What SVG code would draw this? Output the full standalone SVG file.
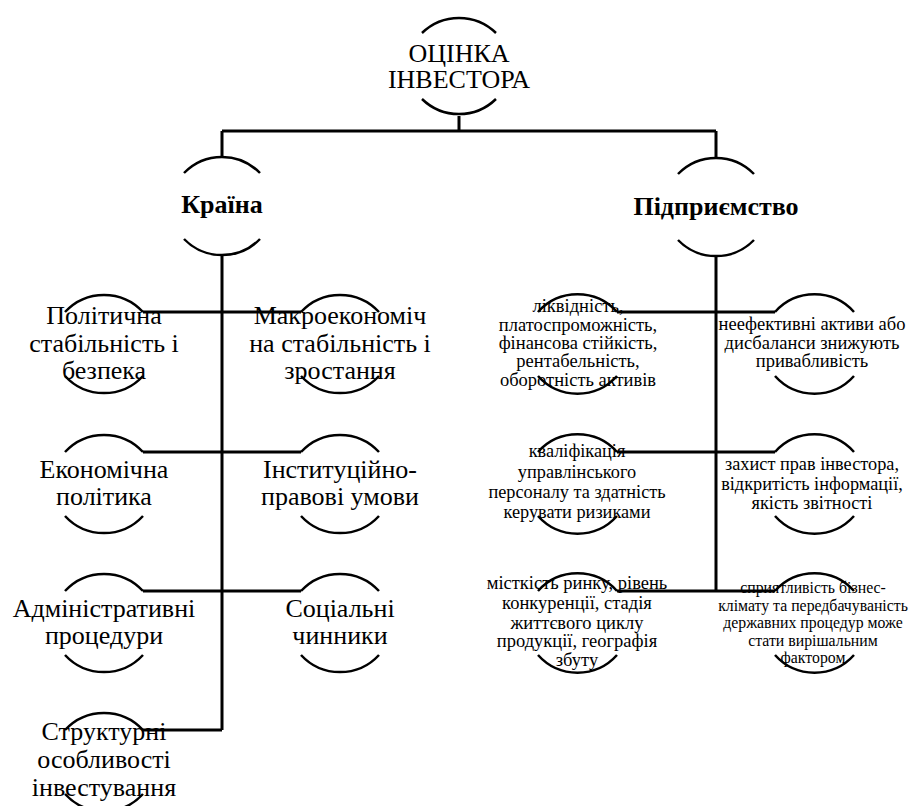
<svg xmlns="http://www.w3.org/2000/svg" width="911" height="806" viewBox="0 0 911 806" font-family="Liberation Serif, Times New Roman, serif">
<style>
.arc{fill:none;stroke:#000;stroke-width:2.5}
.ln{fill:none;stroke:#000;stroke-width:3}
text{font-family:"Liberation Serif","Times New Roman",serif;fill:#000;text-anchor:middle}
.big{font-size:26px}
.bold{font-size:26px;font-weight:bold}
.sm{font-size:18.5px}
.sm2{font-size:18.3px}
.xs{font-size:15.8px}
</style>
<rect width="911" height="806" fill="#fff"/>
<g id="n-root">
<path class="arc" d="M422,33 A53,53 0 0 1 496,33"/>
<path class="arc" d="M422,99 A53,53 0 0 0 496,99"/>
<text class="big" x="459" y="62">ОЦІНКА</text>
<text class="big" x="459" y="88">ІНВЕСТОРА</text>
</g>
<g id="n-country">
<path class="arc" d="M184,173 A53,53 0 0 1 260,173"/>
<path class="arc" d="M184,239 A53,53 0 0 0 260,239"/>
<text class="bold" x="222" y="213">Країна</text>
</g>
<g id="n-company">
<path class="arc" d="M678,174 A53,53 0 0 1 754,174"/>
<path class="arc" d="M678,240 A53,53 0 0 0 754,240"/>
<text class="bold" x="716" y="215">Підприємство</text>
</g>
<g id="n-pol">
<path class="arc" d="M65,312 A53,53 0 0 1 143,312"/>
<path class="arc" d="M65,376 A53,53 0 0 0 143,376"/>
<text class="big" x="104" y="324">Політична</text>
<text class="big" x="104" y="352">стабільність і</text>
<text class="big" x="104" y="379">безпека</text>
</g>
<g id="n-macro">
<path class="arc" d="M301,312 A53,53 0 0 1 379,312"/>
<path class="arc" d="M301,376 A53,53 0 0 0 379,376"/>
<text class="big" x="340" y="324">Макроекономіч</text>
<text class="big" x="340" y="352">на стабільність і</text>
<text class="big" x="340" y="379">зростання</text>
</g>
<g id="n-econ">
<path class="arc" d="M65,452 A53,53 0 0 1 143,452"/>
<path class="arc" d="M65,516 A53,53 0 0 0 143,516"/>
<text class="big" x="104" y="478">Економічна</text>
<text class="big" x="104" y="505">політика</text>
</g>
<g id="n-inst">
<path class="arc" d="M301,452 A53,53 0 0 1 379,452"/>
<path class="arc" d="M301,516 A53,53 0 0 0 379,516"/>
<text class="big" x="340" y="478">Інституційно-</text>
<text class="big" x="340" y="505">правові умови</text>
</g>
<g id="n-admin">
<path class="arc" d="M65,591 A53,53 0 0 1 143,591"/>
<path class="arc" d="M65,655 A53,53 0 0 0 143,655"/>
<text class="big" x="104" y="617">Адміністративні</text>
<text class="big" x="104" y="644">процедури</text>
</g>
<g id="n-social">
<path class="arc" d="M301,591 A53,53 0 0 1 379,591"/>
<path class="arc" d="M301,655 A53,53 0 0 0 379,655"/>
<text class="big" x="340" y="617">Соціальні</text>
<text class="big" x="340" y="644">чинники</text>
</g>
<g id="n-struct">
<path class="arc" d="M65,730 A53,53 0 0 1 143,730"/>
<path class="arc" d="M65,794 A53,53 0 0 0 143,794"/>
<text class="big" x="104" y="740">Структурні</text>
<text class="big" x="104" y="768">особливості</text>
<text class="big" x="104" y="796">інвестування</text>
</g>
<g id="n-liq">
<path class="arc" d="M538,312 A53,53 0 0 1 617,312"/>
<path class="arc" d="M538,376 A53,53 0 0 0 617,376"/>
<text class="sm" x="578" y="312">ліквідність,</text>
<text class="sm" x="578" y="331">платоспроможність,</text>
<text class="sm" x="578" y="349">фінансова стійкість,</text>
<text class="sm" x="578" y="367">рентабельність,</text>
<text class="sm" x="578" y="386">оборотність активів</text>
</g>
<g id="n-ineff">
<path class="arc" d="M775,312 A53,53 0 0 1 854,312"/>
<path class="arc" d="M775,376 A53,53 0 0 0 854,376"/>
<text class="sm" x="812" y="330">неефективні активи або</text>
<text class="sm" x="812" y="349">дисбаланси знижують</text>
<text class="sm" x="812" y="367">привабливість</text>
</g>
<g id="n-qual">
<path class="arc" d="M538,452 A53,53 0 0 1 617,452"/>
<path class="arc" d="M538,516 A53,53 0 0 0 617,516"/>
<text class="sm2" x="577" y="457">кваліфікація</text>
<text class="sm2" x="577" y="478">управлінського</text>
<text class="sm2" x="577" y="498">персоналу та здатність</text>
<text class="sm2" x="577" y="518">керувати ризиками</text>
</g>
<g id="n-rights">
<path class="arc" d="M775,452 A53,53 0 0 1 854,452"/>
<path class="arc" d="M775,516 A53,53 0 0 0 854,516"/>
<text class="sm2" x="812" y="470">захист прав інвестора,</text>
<text class="sm2" x="812" y="490">відкритість інформації,</text>
<text class="sm2" x="812" y="509">якість звітності</text>
</g>
<g id="n-market">
<path class="arc" d="M538,591 A53,53 0 0 1 617,591"/>
<path class="arc" d="M538,655 A53,53 0 0 0 617,655"/>
<text class="sm" x="577" y="589">місткість ринку, рівень</text>
<text class="sm" x="577" y="609">конкуренції, стадія</text>
<text class="sm" x="577" y="629">життєвого циклу</text>
<text class="sm" x="577" y="647">продукції, географія</text>
<text class="sm" x="577" y="666">збуту</text>
</g>
<g id="n-climate">
<path class="arc" d="M775,591 A53,53 0 0 1 854,591"/>
<path class="arc" d="M775,655 A53,53 0 0 0 854,655"/>
<text class="xs" x="813" y="593">сприятливість бізнес-</text>
<text class="xs" x="813" y="610.5">клімату та передбачуваність</text>
<text class="xs" x="813" y="628">державних процедур може</text>
<text class="xs" x="813" y="645.5">стати вирішальним</text>
<text class="xs" x="813" y="663">фактором</text>
</g>
<g id="connectors">
<path class="ln" d="M459,116 V131 M222,131 H716 M222,131 V157 M716,131 V158"/>
<path class="ln" d="M222,256 V730 M143,312 H301 M143,452 H301 M143,591 H301 M143,730 H222"/>
<path class="ln" d="M716,257 V591 M617,312 H775 M617,452 H775 M617,591 H775"/>
</g>
</svg>
